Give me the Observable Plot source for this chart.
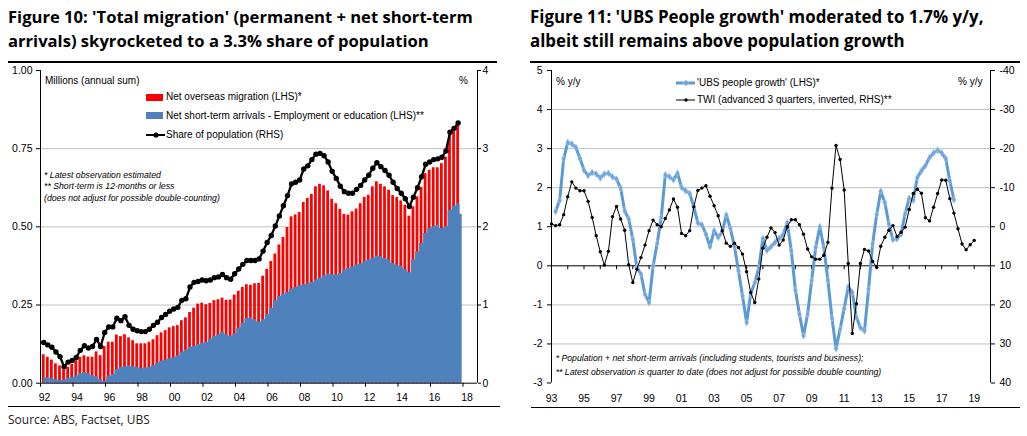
<!DOCTYPE html>
<html><head><meta charset="utf-8">
<script src="https://cdn.jsdelivr.net/npm/d3@7"></script>
<script src="https://cdn.jsdelivr.net/npm/@observablehq/plot@0.6"></script>
<style>
body{margin:0;background:#fff}
#root{position:relative;width:1027px;height:436px;background:#fff;overflow:hidden;font-family:"Liberation Sans",Arial,sans-serif;color:#000}
.abs{position:absolute;white-space:nowrap}
.title{font-family:"Open Sans",sans-serif;font-weight:700;font-size:16.6px;line-height:24px}
.rule{position:absolute;background:#000;height:1.5px}
.lg{font-size:10px;line-height:12px}
.fn{font-size:8.7px;line-height:11px;font-style:italic}
.src{font-family:"Open Sans",sans-serif;font-size:12px;line-height:14px;color:#222}
svg{overflow:visible}
</style></head><body><div id="root">
<div class="abs title" style="left:8px;top:5px">Figure 10: 'Total migration' (permanent + net short-term<br>arrivals) skyrocketed to a 3.3% share of population</div>
<div class="abs title" style="left:530px;top:5px;font-size:16.9px">Figure 11: 'UBS People growth' moderated to 1.7% y/y,<br>albeit still remains above population growth</div>
<div class="rule" style="left:8px;top:61px;width:489px"></div>
<div class="rule" style="left:530px;top:61px;width:490px"></div>
<div id="left" class="abs" style="left:0;top:60px"></div>
<div id="right" class="abs" style="left:515px;top:60px"></div>

<div class="abs lg" style="left:45px;top:74.7px">Millions (annual sum)</div>
<div class="abs lg" style="left:459px;top:74.7px">%</div>
<div class="abs" style="left:146px;top:93.5px;width:17px;height:7px;background:#ff0000"></div>
<div class="abs lg" style="left:166px;top:91.3px">Net overseas migration (LHS)*</div>
<div class="abs" style="left:146px;top:112px;width:17px;height:7px;background:#4f81bd"></div>
<div class="abs lg" style="left:166px;top:110px">Net short-term arrivals - Employment or education (LHS)**</div>
<svg class="abs" style="left:146px;top:130px" width="20" height="10"><line x1="0" y1="5" x2="19" y2="5" stroke="#000" stroke-width="2"/><circle cx="10" cy="5" r="2.6" fill="#000"/></svg>
<div class="abs lg" style="left:166px;top:129px">Share of population (RHS)</div>
<div class="abs fn" style="left:44px;top:169.5px">* Latest observation estimated</div>
<div class="abs fn" style="left:44px;top:181.2px">** Short-term is 12-months or less</div>
<div class="abs fn" style="left:44px;top:192.8px">(does not adjust for possible double-counting)</div>
<div class="rule" style="left:8px;top:406px;width:492px;height:1.2px"></div>
<div class="abs src" style="left:8px;top:413px">Source: ABS, Factset, UBS</div>

<div class="abs lg" style="left:556px;top:76px">% y/y</div>
<div class="abs lg" style="left:958px;top:76px">% y/y</div>
<svg class="abs" style="left:676px;top:77.7px" width="20" height="10"><line x1="0" y1="5" x2="19" y2="5" stroke="#5b9bd5" stroke-width="3"/><path d="M10,2L13,5L10,8L7,5Z" fill="#6ea3dc" stroke="#a8c8ee" stroke-width="0.6"/></svg>
<div class="abs lg" style="left:697px;top:76.7px">'UBS people growth' (LHS)*</div>
<svg class="abs" style="left:676px;top:95px" width="20" height="10"><line x1="0" y1="5" x2="19" y2="5" stroke="#000" stroke-width="1"/><circle cx="10" cy="5" r="1.7" fill="#000"/></svg>
<div class="abs lg" style="left:697px;top:94px">TWI (advanced 3 quarters, inverted, RHS)**</div>
<div class="abs fn" style="left:555.7px;top:352.8px">* Population + net short-term arrivals (including students, tourists and business);</div>
<div class="abs fn" style="left:555.7px;top:367.2px">** Latest observation is quarter to date (does not adjust for possible double counting)</div>
<div class="rule" style="left:531px;top:406.5px;width:489px;height:1.2px"></div>
</div>
<script>
// ---- Figure 10 data (quarterly, first quarter 1992) ----
const leftStart = 1992.2;
const totalMigration = [0.091,0.083,0.074,0.062,0.055,0.043,0.051,0.060,0.072,0.083,
 0.088,0.083,0.083,0.100,0.088,0.117,0.131,0.131,0.154,0.149,
 0.155,0.145,0.136,0.126,0.126,0.126,0.131,0.139,0.152,0.161,
 0.168,0.177,0.181,0.184,0.200,0.209,0.226,0.240,0.253,0.256,
 0.251,0.255,0.264,0.267,0.272,0.265,0.266,0.282,0.294,0.306,
 0.315,0.313,0.318,0.319,0.342,0.364,0.389,0.413,0.442,0.466,
 0.498,0.532,0.538,0.546,0.578,0.591,0.604,0.628,0.636,0.631,
 0.615,0.588,0.574,0.556,0.540,0.538,0.548,0.557,0.574,0.594,
 0.601,0.628,0.644,0.636,0.628,0.617,0.600,0.594,0.583,0.569,
 0.534,0.564,0.596,0.626,0.670,0.681,0.689,0.689,0.702,0.723,
 0.793,0.806,0.824];
const shortTermArrivals = [0.019,0.017,0.015,0.011,0.009,0.011,0.015,0.019,0.024,0.030,
 0.034,0.030,0.024,0.021,0.011,0.006,0.021,0.028,0.043,0.051,
 0.053,0.055,0.053,0.051,0.046,0.049,0.051,0.056,0.064,0.070,
 0.074,0.078,0.081,0.088,0.099,0.106,0.115,0.117,0.123,0.128,
 0.131,0.141,0.149,0.155,0.163,0.156,0.149,0.158,0.176,0.192,
 0.207,0.209,0.203,0.196,0.203,0.220,0.240,0.264,0.277,0.285,
 0.290,0.301,0.306,0.312,0.315,0.317,0.322,0.330,0.336,0.344,
 0.349,0.347,0.346,0.351,0.362,0.367,0.372,0.378,0.381,0.388,
 0.394,0.399,0.407,0.404,0.399,0.394,0.383,0.378,0.374,0.364,
 0.353,0.394,0.420,0.447,0.479,0.495,0.500,0.505,0.495,0.500,
 0.553,0.566,0.574,0.540];
const sharePopulation = [0.52,0.49,0.46,0.40,0.34,0.21,0.27,0.29,0.33,0.42,
 0.48,0.45,0.47,0.56,0.47,0.65,0.72,0.72,0.83,0.80,
 0.85,0.74,0.69,0.67,0.66,0.66,0.69,0.74,0.78,0.84,
 0.88,0.92,0.95,0.97,1.06,1.08,1.23,1.29,1.30,1.32,
 1.31,1.32,1.35,1.36,1.39,1.35,1.33,1.40,1.46,1.52,
 1.57,1.57,1.57,1.59,1.69,1.80,1.89,2.01,2.14,2.27,
 2.40,2.55,2.57,2.60,2.74,2.78,2.86,2.93,2.94,2.91,
 2.83,2.71,2.62,2.52,2.45,2.43,2.43,2.48,2.53,2.60,
 2.66,2.75,2.82,2.77,2.72,2.66,2.57,2.49,2.43,2.36,
 2.26,2.38,2.50,2.64,2.80,2.83,2.86,2.87,2.89,2.97,
 3.21,3.26,3.33];
const leftTicks = [0, 0.25, 0.5, 0.75, 1];
const leftYears = d3.range(1992, 2019, 2);

// ---- Figure 11 data ----
const ubsStart = 1993.25;
const ubsPeopleGrowth = [1.39,1.67,2.74,3.16,3.12,3.03,2.75,2.45,2.31,2.39,
 2.35,2.25,2.35,2.37,2.28,2.22,1.99,1.41,1.20,0.68,
 -0.04,-0.21,-0.73,-0.94,0.00,0.57,1.24,2.33,2.28,2.20,
 2.37,2.01,1.92,1.85,1.51,1.10,1.05,0.81,0.49,0.90,
 0.73,0.87,1.30,0.96,0.50,-0.13,-0.77,-1.45,-0.72,-0.43,
 -0.05,0.70,0.39,0.49,0.60,0.70,0.80,1.10,0.38,-0.62,
 -1.24,-1.79,-1.24,-0.38,0.47,1.00,0.47,-0.37,-1.34,-2.12,
 -1.62,-1.09,-0.54,-0.68,-1.32,-1.58,-1.67,-0.60,0.56,1.31,
 1.91,1.62,1.07,0.67,0.69,0.82,1.33,1.73,1.68,2.26,
 2.43,2.57,2.77,2.89,2.96,2.89,2.74,2.17,1.69];
const twiStart = 1993.0;
const twiInverted = [-0.7,-0.3,-0.5,-3.1,-7.7,-11.5,-9.9,-9.2,-9.2,-6.5,
 -2.4,2.3,6.4,9.8,6.3,-2.6,-5.2,-2.0,0.9,9.7,
 14.3,10.9,7.9,4.7,1.0,-1.7,-0.5,0.0,-2.1,-4.3,
 -7.1,-5.0,1.7,2.3,1.0,-5.1,-9.3,-9.9,-10.5,-7.8,
 -5.4,-2.8,1.0,4.2,5.0,4.2,5.3,7.0,11.5,16.8,
 19.4,13.4,5.5,2.7,0.3,1.5,4.7,3.4,0.0,-1.8,
 -1.8,-0.5,1.9,5.7,7.7,8.3,8.3,7.3,4.0,-9.9,
 -20.8,-17.2,-9.4,9.4,27.3,19.7,9.4,5.8,6.2,8.9,
 10.4,5.0,2.7,0.9,-0.3,2.5,1.4,0.1,-4.4,-8.5,
 -9.6,-8.6,-2.3,-1.5,-5.0,-8.5,-12.0,-11.9,-7.2,-3.5,
 0.5,4.4,5.9,4.6,3.5];
const rightTicks = d3.range(-3, 6);
const rightYears = d3.range(1993, 2020);
const rightLabelYears = d3.range(1993, 2020, 2);

const q = (arr, start) => arr.map((v, i) => ({t: start + i * 0.25, v}));
const redRows = q(totalMigration, leftStart);
const blueRows = q(shortTermArrivals, leftStart);
const shareRows = q(sharePopulation, leftStart);
const ubsRows = q(ubsPeopleGrowth, ubsStart);
const twiRows = q(twiInverted, twiStart);
const twiToLeft = r => (10 - r) / 10;

const axStyle = {background: "transparent", fontFamily: "Liberation Sans, Arial, sans-serif", fontSize: "10.5px", color: "#000", overflow: "visible"};

const leftX = [1992, 1992 + 437 / 16.25];
const leftPlot = Plot.plot({
  width: 505, height: 350, marginLeft: 40, marginRight: 28, marginTop: 10, marginBottom: 27.3,
  x: {domain: leftX, label: null}, y: {domain: [0, 1], label: null},
  style: axStyle,
  marks: [
    Plot.gridY([0.25, 0.5, 0.75], {stroke: "#c0c0c0", strokeOpacity: 1}),
    Plot.rect(redRows, {x1: d => d.t - 0.085, x2: d => d.t + 0.085, y1: () => 0, y2: "v", fill: "#ff0000"}),
    Plot.areaY(blueRows, {x: "t", y: "v", curve: "step", fill: "#4f81bd", fillOpacity: 1}),
    Plot.line(shareRows, {x: "t", y: d => d.v / 4, stroke: "#000", strokeWidth: 2.3}),
    Plot.dot(shareRows, {x: "t", y: d => d.v / 4, r: 2.7, fill: "#000", stroke: null}),
    Plot.ruleX(leftX, {stroke: "#000"}),
    Plot.ruleY([0], {stroke: "#000"}),
    Plot.axisY(leftTicks, {anchor: "left", tickSize: 4, tickPadding: 4, tickFormat: d3.format(".2f"), label: null}),
    Plot.axisY(leftTicks, {anchor: "right", tickSize: 3, tickPadding: 2, tickFormat: d => d * 4, label: null}),
    Plot.axisX(leftYears, {tickSize: 4, tickFormat: () => "", label: null}),
    Plot.axisX(leftYears, {tickSize: 0, tickPadding: 10.6, dx: 4, tickFormat: d => String(d).slice(2), label: null})
  ]
});
document.getElementById("left").append(leftPlot);

const rightX = [1993, 2020];
const rightPlot = Plot.plot({
  width: 512, height: 350, marginLeft: 36, marginRight: 37, marginTop: 10, marginBottom: 27.5,
  x: {domain: rightX, label: null}, y: {domain: [-3, 5], label: null},
  style: axStyle,
  marks: [
    Plot.gridY([-2, -1, 1, 2, 3, 4], {stroke: "#c0c0c0", strokeOpacity: 1}),
    Plot.ruleY([0], {stroke: "#000"}),
    Plot.ruleX(rightYears, {x: d => d, y1: () => 0, y2: () => -0.1, stroke: "#000"}),
    Plot.line(ubsRows, {x: "t", y: "v", stroke: "#5b9bd5", strokeWidth: 3}),
    Plot.dot(ubsRows, {x: "t", y: "v", symbol: "diamond", r: 2.1, fill: "#6ea3dc", stroke: "#a8c8ee", strokeWidth: 0.6}),
    Plot.line(twiRows, {x: "t", y: d => twiToLeft(d.v), stroke: "#000", strokeWidth: 1}),
    Plot.dot(twiRows, {x: "t", y: d => twiToLeft(d.v), r: 1.7, fill: "#000", stroke: null}),
    Plot.ruleX(rightX, {stroke: "#000"}),
    Plot.axisY(rightTicks, {anchor: "left", tickSize: 4, tickPadding: 5, tickFormat: d => d, label: null}),
    Plot.axisY(rightTicks, {anchor: "right", tickSize: 4, tickPadding: 5, tickFormat: d => 10 - 10 * d, label: null}),
    Plot.axisX(rightLabelYears, {tickSize: 0, tickPadding: 11.8, tickFormat: d => String(d).slice(2), label: null})
  ]
});
document.getElementById("right").append(rightPlot);
</script>
</body></html>
